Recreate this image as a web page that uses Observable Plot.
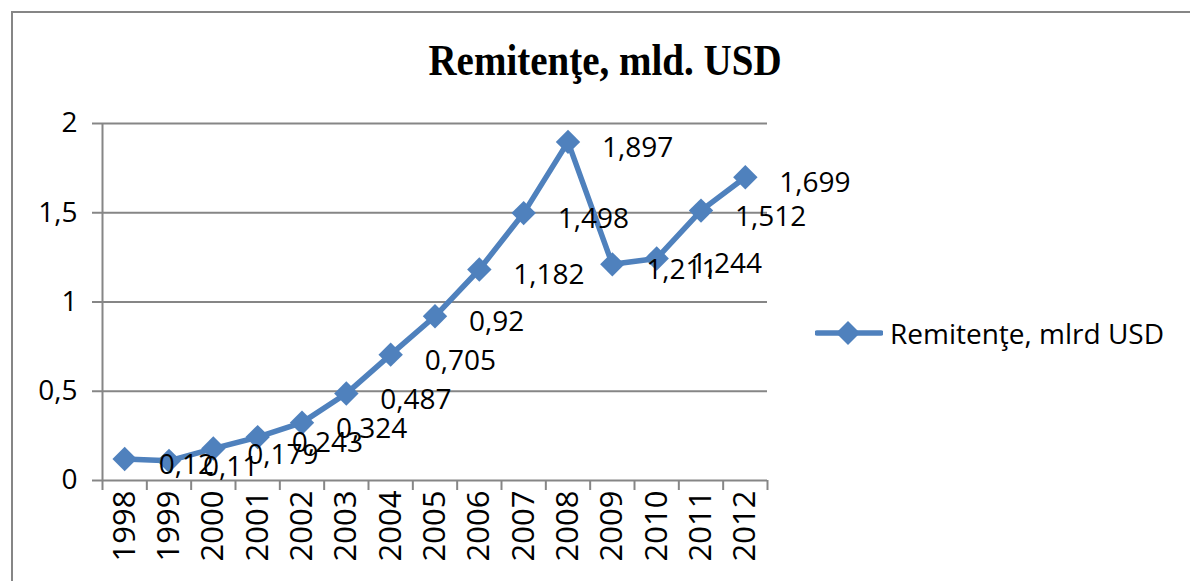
<!DOCTYPE html>
<html><head><meta charset="utf-8">
<script src="https://cdn.jsdelivr.net/npm/d3@7"></script>
<script src="https://cdn.jsdelivr.net/npm/@observablehq/plot@0.6"></script>
<style>
body{margin:0;background:#fff;width:1190px;height:581px;overflow:hidden;position:relative;font-family:"Open Sans",sans-serif}
#frame{position:absolute;left:11px;top:11px;width:1200px;height:600px;border-left:2px solid #868686;border-top:2px solid #868686}
#title{position:absolute;left:0;width:1210px;top:38px;text-align:center;font-family:"Liberation Serif",serif;font-weight:bold;font-size:39px;line-height:44px;transform:scaleY(1.15)}
#chart{position:absolute;left:0;top:0}
#legend{position:absolute;left:815px;top:315px;display:flex;align-items:center;font-size:28px;line-height:36px}
#legend svg{margin-right:7px}
</style>
</head><body>
<div id="frame"></div>
<div id="chart"></div>
<div id="title">Remitenţe, mld. USD</div>
<div id="legend"><svg width="68" height="30"><line x1="2" x2="66" y1="15" y2="15" stroke="#4F81BD" stroke-width="5.5" stroke-linecap="round"/><polygon points="33,3 45,15 33,27 21,15" fill="#4F81BD"/></svg><span>Remitenţe, mlrd USD</span></div>
<script>
const years = [1998,1999,2000,2001,2002,2003,2004,2005,2006,2007,2008,2009,2010,2011,2012];
const values = [0.12,0.11,0.179,0.243,0.324,0.487,0.705,0.92,1.182,1.498,1.897,1.211,1.244,1.512,1.699];
const yTicks = [0,0.5,1,1.5,2];
const seriesName = "Remitenţe, mlrd USD";

const data = years.map((year,i)=>({year, value: values[i]}));
const boundaries = years.map(y=>y-0.5).concat([years[years.length-1]+0.5]);
const fmt = v => String(v).replace(".", ",");

const chart = Plot.plot({
  width: 1190, height: 581,
  marginLeft: 102, marginRight: 423, marginTop: 123, marginBottom: 101,
  x: {domain: [boundaries[0], boundaries[boundaries.length-1]]},
  y: {domain: [0, 2]},
  style: {fontFamily: "'Open Sans', sans-serif", background: "transparent", overflow: "visible"},
  marks: [
    Plot.gridY(yTicks, {stroke: "#868686", strokeOpacity: 1, strokeWidth: 2}),
    Plot.axisY(yTicks, {tickSize: 10, tickPadding: 15, tickFormat: fmt, fontSize: 28, stroke: "#868686", strokeWidth: 2, fill: "#000", label: null}),
    Plot.ruleX([boundaries[0]], {y1: 0, y2: 2, stroke: "#868686", strokeWidth: 2}),
    Plot.axisX(boundaries, {tickSize: 10, tickFormat: () => "", stroke: "#868686", strokeWidth: 2, label: null}),
    Plot.axisX(years, {tickSize: 0, tickPadding: 10, tickRotate: -90, tickFormat: d => String(d), fontSize: 31, fill: "#000", label: null}),
    Plot.line(data, {x: "year", y: "value", stroke: "#4F81BD", strokeWidth: 5.5}),
    Plot.dot(data, {x: "year", y: "value", symbol: "diamond2", r: 11, fill: "#4F81BD", stroke: "none"}),
    Plot.text(data, {x: "year", y: "value", text: d => fmt(d.value), dx: 34, dy: 6, textAnchor: "start", fontSize: 28, fill: "#000"})
  ]
});
document.getElementById("chart").appendChild(chart);
</script>
</body></html>
